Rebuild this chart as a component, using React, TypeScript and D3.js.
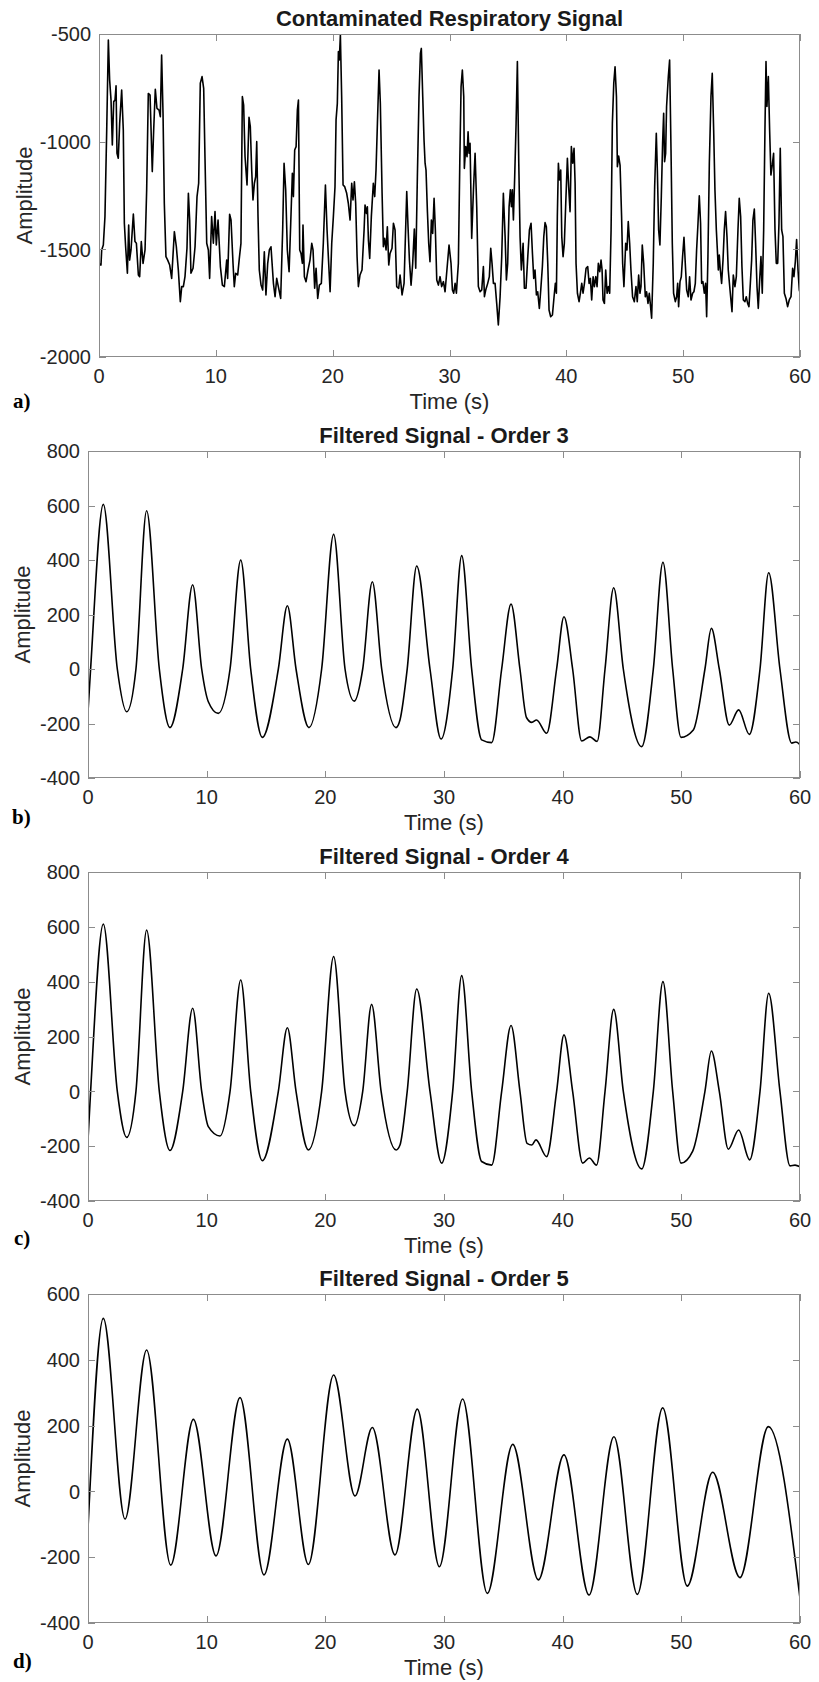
import React from 'react';
import * as d3 from 'd3';

type Pt = [number, number];

// tick values
const timeTicks = [0, 10, 20, 30, 40, 50, 60];
const rawTicks = [-2000, -1500, -1000, -500];
const filteredTicks = [-400, -200, 0, 200, 400, 600, 800];
const order5Ticks = [-400, -200, 0, 200, 400, 600];

const titles = [
    'Contaminated Respiratory Signal',
    'Filtered Signal - Order 3',
    'Filtered Signal - Order 4',
    'Filtered Signal - Order 5',
];
const letters = ['a)', 'b)', 'c)', 'd)'];

// [time (s), amplitude]
const rawSignal: Pt[] = [
    [0, -1565], [0.17, -1573], [0.23, -1503], [0.37, -1480], [0.51, -1348], [0.66, -946], [0.8, -528], [0.91, -713],
    [1.03, -807], [1.14, -1015], [1.26, -814], [1.37, -807], [1.46, -741], [1.54, -1054], [1.65, -1077], [1.77, -915],
    [1.94, -760], [2.08, -946], [2.17, -1379], [2.28, -1488], [2.43, -1611], [2.54, -1387], [2.62, -1550], [2.74, -1503],
    [2.94, -1336], [3.08, -1464], [3.2, -1472], [3.37, -1619], [3.48, -1627], [3.62, -1464], [3.77, -1565], [3.94, -1503],
    [4.08, -1224], [4.22, -776], [4.37, -784], [4.56, -1139], [4.68, -946], [4.82, -757], [4.96, -845], [5.14, -853],
    [5.25, -884], [5.36, -598], [5.48, -868], [5.59, -1286], [5.73, -1534], [5.88, -1550], [6.05, -1573], [6.22, -1635],
    [6.45, -1418], [6.62, -1488], [6.79, -1596], [6.96, -1743], [7.08, -1673], [7.22, -1673], [7.36, -1627], [7.53, -1495],
    [7.65, -1240], [7.76, -1364], [7.87, -1611], [8.05, -1588], [8.22, -1488], [8.39, -1255], [8.53, -1193], [8.67, -729],
    [8.82, -698], [8.96, -752], [9.07, -1070], [9.22, -1472], [9.36, -1503], [9.47, -1635], [9.64, -1348], [9.79, -1472],
    [9.93, -1325], [10.04, -1480], [10.19, -1364], [10.39, -1580], [10.56, -1666], [10.73, -1673], [10.93, -1550], [11.01, -1635],
    [11.18, -1337], [11.3, -1364], [11.47, -1565], [11.58, -1673], [11.7, -1611], [11.87, -1619], [12.01, -1542], [12.15, -1472],
    [12.27, -791], [12.38, -830], [12.5, -1070], [12.67, -1201], [12.84, -887], [12.95, -930], [13.07, -1132], [13.18, -1271],
    [13.3, -1193], [13.41, -1163], [13.5, -1000], [13.61, -1348], [13.72, -1596], [13.87, -1666], [14.01, -1689], [14.15, -1511],
    [14.29, -1712], [14.44, -1565], [14.58, -1503], [14.72, -1488], [14.93, -1658], [15.07, -1720], [15.21, -1635], [15.35, -1673],
    [15.55, -1728], [15.72, -1410], [15.84, -1100], [15.98, -1224], [16.12, -1503], [16.27, -1604], [16.41, -1379], [16.55, -1147],
    [16.64, -1255], [16.75, -1039], [16.87, -1023], [16.98, -853], [17.07, -807], [17.18, -1503], [17.29, -1519], [17.41, -1565],
    [17.46, -1387], [17.58, -1627], [17.72, -1650], [17.89, -1596], [18.06, -1550], [18.21, -1472], [18.32, -1503], [18.46, -1681],
    [18.58, -1588], [18.72, -1728], [18.86, -1666], [19.03, -1658], [19.2, -1472], [19.38, -1201], [19.52, -1410], [19.63, -1534],
    [19.78, -1697], [19.92, -1472], [20.06, -1348], [20.2, -1209], [20.29, -899], [20.4, -822], [20.49, -582], [20.57, -621],
    [20.66, -505], [20.77, -791], [20.89, -1201], [21.03, -1209], [21.2, -1240], [21.34, -1286], [21.49, -1364], [21.63, -1193],
    [21.74, -1271], [21.86, -1186], [21.97, -1286], [22.09, -1534], [22.2, -1673], [22.34, -1619], [22.51, -1596], [22.69, -1410],
    [22.77, -1294], [22.89, -1333], [22.97, -1302], [23.06, -1457], [23.17, -1542], [23.31, -1348], [23.48, -1193], [23.6, -1255],
    [23.71, -1132], [23.83, -915], [23.97, -667], [24.08, -822], [24.23, -1240], [24.34, -1488], [24.45, -1449], [24.57, -1503],
    [24.68, -1395], [24.8, -1573], [24.91, -1519], [25.08, -1495], [25.2, -1379], [25.34, -1410], [25.48, -1673], [25.65, -1681],
    [25.77, -1619], [25.94, -1712], [26.11, -1658], [26.34, -1232], [26.45, -1395], [26.57, -1550], [26.71, -1666], [26.85, -1565],
    [26.99, -1406], [27.11, -1588], [27.25, -1163], [27.39, -791], [27.51, -590], [27.59, -567], [27.71, -791], [27.82, -992],
    [27.91, -1100], [27.99, -1132], [28.11, -1325], [28.22, -1472], [28.33, -1557], [28.45, -1364], [28.56, -1426], [28.68, -1263],
    [28.79, -1410], [28.91, -1642], [29.05, -1666], [29.19, -1627], [29.33, -1673], [29.48, -1650], [29.62, -1697], [29.96, -1480],
    [30.13, -1565], [30.25, -1689], [30.36, -1704], [30.48, -1658], [30.59, -1704], [30.68, -1627], [30.76, -1565], [30.88, -1100],
    [30.99, -745], [31.1, -667], [31.22, -791], [31.27, -1124], [31.39, -1023], [31.5, -1070], [31.59, -954], [31.67, -1054],
    [31.76, -1008], [31.9, -1449], [32.05, -1224], [32.19, -1054], [32.33, -1302], [32.47, -1673], [32.62, -1697], [32.76, -1689],
    [32.9, -1580], [32.99, -1720], [33.1, -1689], [33.27, -1658], [33.41, -1627], [33.53, -1495], [33.64, -1565], [33.76, -1658],
    [33.9, -1658], [34.04, -1751], [34.18, -1851], [34.33, -1720], [34.47, -1534], [34.61, -1240], [34.76, -1441], [34.87, -1642],
    [34.98, -1565], [35.1, -1302], [35.21, -1224], [35.3, -1302], [35.38, -1224], [35.47, -1364], [35.58, -1163], [35.7, -915],
    [35.81, -628], [35.93, -1100], [36.04, -1441], [36.15, -1596], [36.3, -1472], [36.41, -1681], [36.55, -1681], [36.7, -1534],
    [36.84, -1410], [36.98, -1379], [37.1, -1519], [37.21, -1635], [37.32, -1596], [37.44, -1712], [37.55, -1697], [37.69, -1774],
    [37.81, -1689], [37.95, -1580], [38.07, -1441], [38.18, -1376], [38.29, -1395], [38.41, -1565], [38.52, -1782], [38.66, -1813],
    [38.81, -1805], [38.95, -1720], [39.06, -1658], [39.15, -1704], [39.23, -1348], [39.32, -1100], [39.41, -1178], [39.52, -1132],
    [39.61, -1441], [39.72, -1534], [39.83, -1472], [39.95, -1286], [40.09, -1077], [40.2, -1209], [40.32, -1325], [40.43, -1023],
    [40.55, -1100], [40.66, -1031], [40.75, -1193], [40.83, -1565], [40.95, -1704], [41.09, -1743], [41.2, -1704], [41.32, -1658],
    [41.43, -1704], [41.55, -1658], [41.69, -1588], [41.83, -1580], [41.95, -1658], [42.06, -1635], [42.17, -1735], [42.29, -1627],
    [42.4, -1673], [42.52, -1627], [42.63, -1673], [42.74, -1565], [42.86, -1604], [42.97, -1550], [43.06, -1596], [43.14, -1735],
    [43.26, -1751], [43.37, -1596], [43.49, -1704], [43.6, -1673], [43.71, -1704], [43.83, -1410], [43.94, -915], [44.06, -729],
    [44.17, -652], [44.29, -791], [44.37, -1116], [44.48, -1067], [44.6, -1110], [44.73, -1348], [44.82, -1565], [44.93, -1673],
    [45.08, -1472], [45.19, -1503], [45.3, -1371], [45.42, -1472], [45.53, -1596], [45.67, -1720], [45.82, -1743], [45.96, -1673],
    [46.07, -1743], [46.19, -1619], [46.3, -1704], [46.39, -1673], [46.5, -1480], [46.62, -1565], [46.76, -1720], [46.87, -1697],
    [46.99, -1751], [47.1, -1704], [47.21, -1766], [47.3, -1820], [47.44, -1565], [47.56, -1209], [47.7, -961], [47.79, -1132],
    [47.9, -1410], [48.01, -1480], [48.13, -1255], [48.24, -1008], [48.33, -868], [48.41, -1093], [48.5, -1054], [48.58, -837],
    [48.73, -698], [48.84, -621], [48.96, -1039], [49.07, -1472], [49.18, -1704], [49.33, -1743], [49.44, -1720], [49.53, -1658],
    [49.61, -1766], [49.73, -1650], [49.84, -1627], [49.95, -1534], [50.07, -1444], [50.18, -1565], [50.3, -1689], [50.44, -1720],
    [50.55, -1627], [50.67, -1735], [50.81, -1704], [50.92, -1697], [51.04, -1658], [51.15, -1503], [51.27, -1379], [51.38, -1251],
    [51.49, -1379], [51.58, -1658], [51.69, -1650], [51.81, -1704], [51.92, -1658], [52.01, -1813], [52.12, -1534], [52.24, -1100],
    [52.38, -791], [52.49, -683], [52.61, -946], [52.72, -1224], [52.84, -1410], [52.92, -1495], [53.01, -1596], [53.09, -1526],
    [53.18, -1596], [53.29, -1658], [53.41, -1550], [53.52, -1410], [53.63, -1325], [53.75, -1441], [53.86, -1596], [54.01, -1689],
    [54.18, -1790], [54.29, -1619], [54.43, -1673], [54.55, -1627], [54.69, -1410], [54.8, -1263], [54.92, -1348], [55.03, -1580],
    [55.15, -1735], [55.29, -1743], [55.4, -1720], [55.52, -1751], [55.63, -1766], [55.75, -1658], [55.86, -1550], [55.97, -1364],
    [56.09, -1313], [56.2, -1472], [56.32, -1673], [56.43, -1774], [56.54, -1650], [56.66, -1534], [56.77, -1704], [56.89, -1410],
    [57, -946], [57.09, -628], [57.17, -837], [57.29, -698], [57.4, -946], [57.51, -1155], [57.63, -1108], [57.74, -1054],
    [57.86, -1410], [57.97, -1565], [58.09, -1565], [58.2, -1379], [58.31, -1031], [58.43, -1410], [58.54, -1441], [58.66, -1704],
    [58.8, -1728], [58.94, -1766], [59.08, -1735], [59.23, -1720], [59.37, -1588], [59.48, -1627], [59.6, -1557], [59.71, -1454],
    [59.83, -1596], [59.94, -1689], [60, -1700],
];

const order3Signal: Pt[] = [
    [0, -157], [0.22, 0], [1.29, 604], [2.47, 0], [3.26, -157], [4.04, 0], [4.94, 581], [6.01, 0], [6.91, -215],
    [7.98, 0], [8.82, 309], [9.58, 0], [10.14, -120], [10.98, -163], [11.97, 0], [12.87, 400], [13.71, 0],
    [14.69, -251], [16.04, 0], [16.8, 232], [17.53, 0], [18.62, -215], [19.69, 0], [20.7, 494], [21.66, 0],
    [22.44, -118], [23.15, 0], [23.96, 320], [24.75, 0], [25.95, -215], [26.29, -187], [26.9, 0], [27.7, 378],
    [28.82, 0], [29.75, -257], [30.73, 0], [31.49, 416], [32.33, 0], [33.17, -260], [34.02, -270], [34.86, 0],
    [35.65, 238], [36.4, 0], [36.95, -178], [37.4, -196], [37.8, -187], [38.65, -236], [39.49, 0], [40.11, 192],
    [40.84, 0], [41.6, -264], [42.3, -249], [42.9, -266], [43.57, 0], [44.3, 298], [45.11, 0], [46.66, -285],
    [47.64, 0], [48.45, 392], [49.27, 0], [49.97, -251], [51.01, -224], [51.99, 0], [52.53, 149], [53.2, 0],
    [54.04, -206], [54.83, -150], [55.73, -240], [56.63, 0], [57.36, 353], [58.31, 0], [59.3, -272], [59.65, -268],
    [60, -278],
];

const order4Signal: Pt[] = [
    [0, -177], [0.22, 0], [1.29, 610], [2.47, 0], [3.26, -168], [4.04, 0], [4.94, 588], [6.01, 0], [6.91, -216],
    [7.98, 0], [8.82, 303], [9.58, 0], [10.14, -129], [11.12, -163], [11.97, 0], [12.87, 406], [13.71, 0],
    [14.69, -253], [16.04, 0], [16.8, 232], [17.53, 0], [18.57, -214], [19.69, 0], [20.7, 492], [21.66, 0],
    [22.44, -125], [23.15, 0], [23.9, 317], [24.7, 0], [25.97, -214], [26.29, -196], [26.9, 0], [27.7, 373],
    [28.82, 0], [29.8, -262], [30.73, 0], [31.49, 422], [32.33, 0], [33.17, -256], [34.02, -269], [34.86, 0],
    [35.65, 240], [36.4, 0], [37, -190], [37.4, -196], [37.75, -177], [38.65, -238], [39.49, 0], [40.11, 206],
    [40.84, 0], [41.69, -262], [42.25, -243], [42.85, -269], [43.57, 0], [44.3, 299], [45.11, 0], [46.66, -283],
    [47.64, 0], [48.45, 400], [49.27, 0], [49.97, -262], [50.96, -218], [51.99, 0], [52.53, 147], [53.2, 0],
    [53.96, -211], [54.83, -141], [55.76, -250], [56.63, 0], [57.36, 358], [58.31, 0], [59.16, -272], [59.58, -269],
    [60, -275],
];

const order5Signal: Pt[] = [
    [0, -112], [1.29, 526], [3.12, -84], [4.94, 430], [6.97, -224], [8.88, 219], [10.79, -196], [12.81, 285],
    [14.83, -254], [16.8, 159], [18.57, -222], [20.7, 354], [22.5, -14], [23.96, 194], [25.87, -193], [27.75, 250],
    [29.61, -229], [31.57, 281], [33.65, -310], [35.79, 143], [37.95, -269], [40.11, 111], [42.22, -315], [44.32, 166],
    [46.29, -313], [48.43, 254], [50.5, -288], [52.64, 58], [54.94, -262], [57.33, 197], [60, -325],
];

const FONT = '"Liberation Sans", Arial, Helvetica, sans-serif';
const SERIF = '"Liberation Serif", "Times New Roman", serif';
const AXIS_COLOR = '#8c8c8c';
const TEXT_COLOR = '#262626';
const TICK_LEN = 7;

const panels = [
    { data: rawSignal, yTicks: rawTicks, smooth: false, box: { left: 99, right: 800, top: 34, bottom: 357 }, labelX: 24, letterPos: [13, 408] },
    { data: order3Signal, yTicks: filteredTicks, smooth: true, box: { left: 88, right: 800, top: 451, bottom: 778 }, labelX: 22, letterPos: [12, 824] },
    { data: order4Signal, yTicks: filteredTicks, smooth: true, box: { left: 88, right: 800, top: 872, bottom: 1201 }, labelX: 22, letterPos: [14, 1245] },
    { data: order5Signal, yTicks: order5Ticks, smooth: true, box: { left: 88, right: 800, top: 1294, bottom: 1623 }, labelX: 22, letterPos: [13, 1668] },
];

function Panel({ idx, title, letter, data, yTicks, smooth, box, labelX, letterPos })
{
    const x = d3.scaleLinear().domain([0, 60]).range([box.left, box.right]);
    const y = d3.scaleLinear()
        .domain([yTicks[0], yTicks[yTicks.length - 1]])
        .range([box.bottom, box.top]);

    const line = d3.line<Pt>()
        .x((d) => x(d[0]))
        .y((d) => y(d[1]))
        .curve(smooth ? d3.curveMonotoneX : d3.curveLinear);

    const clipId = `clip-${ idx }`;
    const midX = (box.left + box.right) / 2;
    const midY = (box.top + box.bottom) / 2;

    return (
        <g>
            <defs>
                <clipPath id={ clipId }>
                    <rect x={ box.left } y={ box.top - 1 } width={ box.right - box.left } height={ box.bottom - box.top + 2 } />
                </clipPath>
            </defs>

            <text x={ midX } y={ box.top - 8 } textAnchor="middle" fontFamily={ FONT } fontSize={ 22 }
                fontWeight="bold" fill="#1a1a1a">{ title }</text>

            <path d={ line(data) ?? '' } fill="none" stroke="#000" strokeWidth={ 1.6 }
                strokeLinejoin="round" clipPath={ `url(#${ clipId })` } />

            <rect x={ box.left + 0.5 } y={ box.top + 0.5 } width={ box.right - box.left - 1 }
                height={ box.bottom - box.top - 1 } fill="none" stroke={ AXIS_COLOR } strokeWidth={ 1 } />

            { timeTicks.map((t) =>
            {
                const px = Math.round(x(t)) + 0.5;
                return (
                    <g key={ `xt${ t }` }>
                        <line x1={ px } x2={ px } y1={ box.bottom } y2={ box.bottom - TICK_LEN } stroke={ AXIS_COLOR } />
                        <line x1={ px } x2={ px } y1={ box.top } y2={ box.top + TICK_LEN } stroke={ AXIS_COLOR } />
                        <text x={ x(t) } y={ box.bottom + 26 } textAnchor="middle" fontFamily={ FONT }
                            fontSize={ 20 } fill={ TEXT_COLOR }>{ t }</text>
                    </g>
                );
            }) }

            { yTicks.map((v) =>
            {
                const py = Math.round(y(v)) + 0.5;
                return (
                    <g key={ `yt${ v }` }>
                        <line x1={ box.left } x2={ box.left + TICK_LEN } y1={ py } y2={ py } stroke={ AXIS_COLOR } />
                        <line x1={ box.right } x2={ box.right - TICK_LEN } y1={ py } y2={ py } stroke={ AXIS_COLOR } />
                        <text x={ box.left - 8 } y={ y(v) } dy="0.36em" textAnchor="end" fontFamily={ FONT }
                            fontSize={ 20 } fill={ TEXT_COLOR }>{ v }</text>
                    </g>
                );
            }) }

            <text x={ midX } y={ box.bottom + 52 } textAnchor="middle" fontFamily={ FONT } fontSize={ 22 }
                fill={ TEXT_COLOR }>Time (s)</text>

            <text transform={ `translate(${ labelX },${ midY }) rotate(-90)` } dy="0.36em" textAnchor="middle"
                fontFamily={ FONT } fontSize={ 22 } fill={ TEXT_COLOR }>Amplitude</text>

            <text x={ letterPos[0] } y={ letterPos[1] } fontFamily={ SERIF } fontSize={ 21 } fontWeight="bold"
                fill="#000">{ letter }</text>
        </g>
    );
}

export default function App()
{
    return (
        <svg width={ 819 } height={ 1682 } style={ { position: 'absolute', left: 0, top: 0, background: '#fff' } }>
            { panels.map((p, i) => (
                <Panel key={ i } idx={ i } title={ titles[i] } letter={ letters[i] } { ...p } />
            )) }
        </svg>
    );
}
